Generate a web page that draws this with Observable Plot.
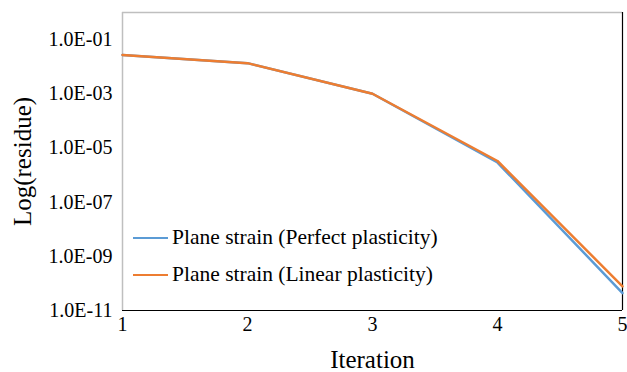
<!DOCTYPE html>
<html>
<head>
<meta charset="utf-8">
<script src="https://cdn.jsdelivr.net/npm/d3@7"></script>
<script src="https://cdn.jsdelivr.net/npm/@observablehq/plot@0.6"></script>
<style>
  html, body { margin: 0; padding: 0; background: #fff; }
  #wrap { position: relative; width: 627px; height: 372px; }
  #legend { position: absolute; left: 133px; top: 219px; font-family: "Liberation Serif", "Times New Roman", serif; font-size: 21.5px; color: #000; }
  .row { display: flex; align-items: center; height: 37px; }
  .sw { width: 35px; height: 0; border-top: 2.5px solid; margin-right: 4px; }
</style>
</head>
<body>
<div id="wrap"><div id="legend"></div></div>
<script>
const iterations = [1, 2, 3, 4, 5];
const perfectPlasticity = [2.7e-2, 1.35e-2, 1.0e-3, 2.9e-6, 4.4e-11];
const linearPlasticity  = [2.7e-2, 1.35e-2, 1.0e-3, 3.3e-6, 7.8e-11];
const seriesNames = ["Plane strain (Perfect plasticity)", "Plane strain (Linear plasticity)"];
const seriesColors = ["#5B9BD5", "#ED7D31"];
const yTicks = [1e-1, 1e-3, 1e-5, 1e-7, 1e-9, 1e-11];
const xTicks = [1, 2, 3, 4, 5];
const xTitle = "Iteration";
const yTitle = "Log(residue)";

const rows = [];
[perfectPlasticity, linearPlasticity].forEach((vals, s) => {
  iterations.forEach((it, i) => rows.push({series: seriesNames[s], x: it, y: vals[i]}));
});

const fmt = d => {
  const e = Math.round(Math.log10(d));
  return "1.0E" + (e < 0 ? "-" : "+") + String(Math.abs(e)).padStart(2, "0");
};

const chart = Plot.plot({
  width: 627,
  height: 372,
  marginLeft: 122,
  marginRight: 5,
  marginTop: 12,
  marginBottom: 62,
  x: {domain: [1, 5]},
  y: {type: "log", domain: [1e-11, 1]},
  style: {fontFamily: "'Liberation Serif', 'Times New Roman', serif", fontSize: "20px", color: "#000", background: "#fff"},
  marks: [
    Plot.ruleX([1], {stroke: "#bfbfbf", strokeWidth: 1.5}),
    Plot.ruleY([1], {stroke: "#bfbfbf", strokeWidth: 1.5}),
    Plot.ruleX([5], {stroke: "#000", strokeWidth: 1.2}),
    Plot.ruleY([1e-11], {stroke: "#000", strokeWidth: 1.2}),
    Plot.line(rows.filter(d => d.series === seriesNames[0]), {x: "x", y: "y", stroke: seriesColors[0], strokeWidth: 2.5}),
    Plot.line(rows.filter(d => d.series === seriesNames[1]), {x: "x", y: "y", stroke: seriesColors[1], strokeWidth: 2.5}),
    Plot.axisY(yTicks, {tickSize: 0, tickPadding: 10, tickFormat: fmt, label: null, fontSize: 20}),
    Plot.axisX(xTicks, {tickSize: 0, tickPadding: 6, tickFormat: d => String(d), label: null, fontSize: 20}),
    Plot.text([xTitle], {frameAnchor: "bottom", lineAnchor: "middle", dy: 49, fontSize: 25}),
    Plot.text([yTitle], {frameAnchor: "left", dx: -100, rotate: -90, textAnchor: "middle", fontSize: 25})
  ]
});
document.getElementById("wrap").prepend(chart);

const legend = document.getElementById("legend");
seriesNames.forEach((name, i) => {
  const row = document.createElement("div");
  row.className = "row";
  const sw = document.createElement("span");
  sw.className = "sw";
  sw.style.borderColor = seriesColors[i];
  const t = document.createElement("span");
  t.textContent = name;
  row.append(sw, t);
  legend.append(row);
});
</script>
</body>
</html>
